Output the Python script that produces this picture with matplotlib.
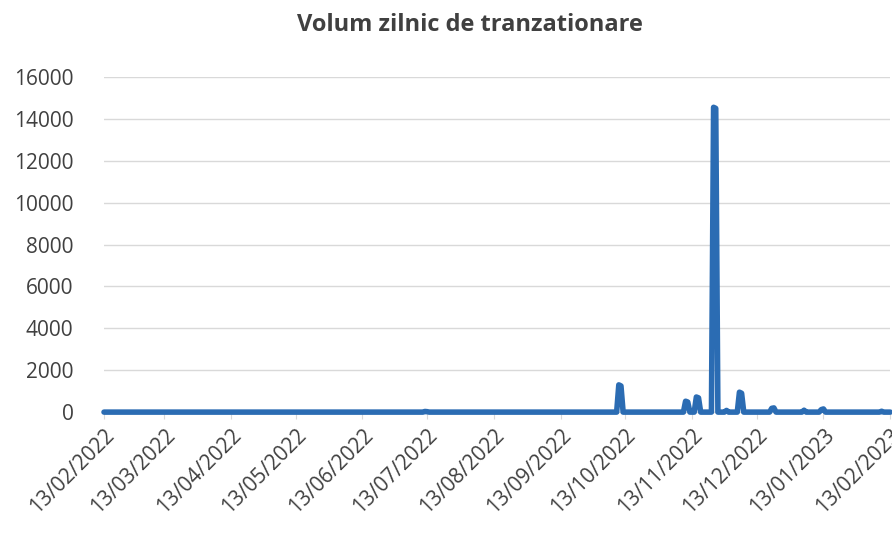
import numpy as np
import pandas as pd
import matplotlib
matplotlib.use("Agg")
import matplotlib.pyplot as plt

# daily trading volume, only days with trades listed (all other days are 0)
trade_dates = ["2022-07-12", "2022-07-13", "2022-10-10", "2022-10-11",
               "2022-11-10", "2022-11-11", "2022-11-15", "2022-11-16",
               "2022-11-23", "2022-11-24", "2022-11-29", "2022-12-05", "2022-12-06",
               "2022-12-20", "2022-12-21", "2023-01-04", "2023-01-12", "2023-01-13",
               "2023-02-09"]
trade_volumes = [30, 20, 1300, 1250,
                 520, 480, 720, 680,
                 14550, 14500, 80, 950, 900,
                 180, 200, 90, 120, 150,
                 40]

start, end = "2022-02-13", "2023-02-13"
tick_labels = ["13/02/2022", "13/03/2022", "13/04/2022", "13/05/2022", "13/06/2022",
               "13/07/2022", "13/08/2022", "13/09/2022", "13/10/2022", "13/11/2022",
               "13/12/2022", "13/01/2023", "13/02/2023"]

days = pd.date_range(start, end, freq="D")
volume = pd.Series(0.0, index=days)
volume[pd.to_datetime(trade_dates)] = trade_volumes

plt.rcParams["font.family"] = ["Open Sans", "DejaVu Sans"]
fig = plt.figure(figsize=(8.92, 5.38), dpi=100)
ax = fig.add_axes([0.1166, 0.234, 0.8814, 0.623])

ax.plot(volume.index, volume.values, color="#2b6cb3", lw=4,
        solid_joinstyle="round", solid_capstyle="round", clip_on=False, zorder=3)

ax.set_ylim(0, 16000)
ax.set_yticks(np.arange(0, 16001, 2000))
ax.set_xlim(pd.Timestamp(start), pd.Timestamp(end))
ticks = pd.to_datetime(tick_labels, format="%d/%m/%Y")
ax.set_xticks(ticks)
ax.set_xticklabels(tick_labels, rotation=45, ha="right", rotation_mode="anchor")

ax.grid(axis="y", color="#d9d9d9", lw=1)
ax.set_axisbelow(True)
for s in ["top", "right", "left"]:
    ax.spines[s].set_visible(False)
ax.spines["bottom"].set_color("#d9d9d9")
ax.tick_params(axis="y", length=0, labelsize=15, colors="#404040", pad=22)
ax.tick_params(axis="x", length=5, color="#d9d9d9", labelsize=15, colors="#404040", pad=4)

fig.suptitle("Volum zilnic de tranzationare", x=0.527, y=0.975, fontsize=17,
             fontweight="bold", color="#404040")

fig.savefig("out.png", dpi=100, facecolor="white")
